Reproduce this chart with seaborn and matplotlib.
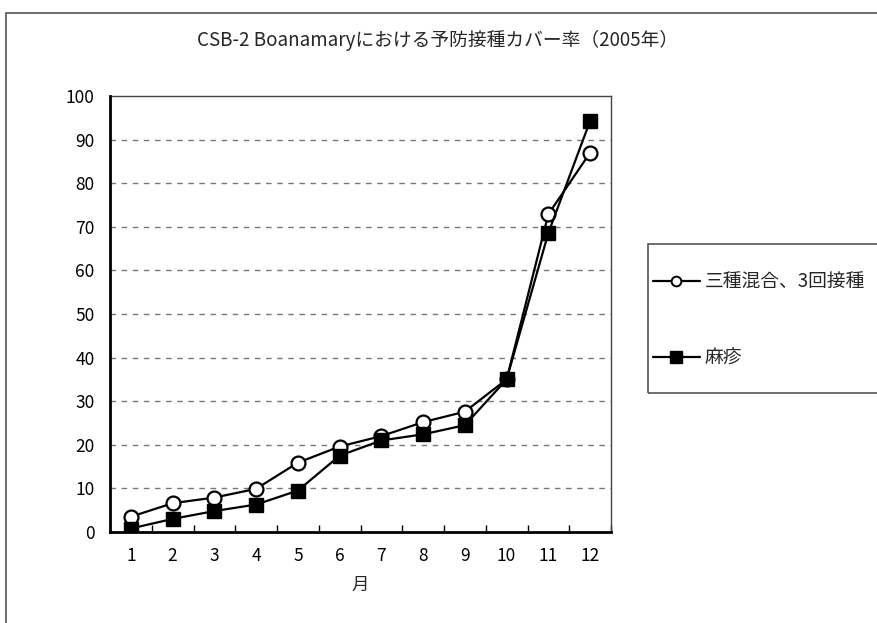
import matplotlib
matplotlib.use("Agg")
import matplotlib.pyplot as plt
import matplotlib.patches as mpatches
from matplotlib.lines import Line2D
import seaborn as sns
import pandas as pd

months = ["1", "2", "3", "4", "5", "6", "7", "8", "9", "10", "11", "12"]
dtp3 = [3.5, 6.6, 7.9, 9.9, 15.9, 19.6, 22.0, 25.2, 27.6, 35.0, 72.9, 87.0]
measles = [0.8, 3.0, 4.8, 6.3, 9.5, 17.5, 21.0, 22.4, 24.5, 35.0, 68.6, 94.3]
series_names = ["三種混合、3回接種", "麻疹"]
title = "CSB-2 Boanamaryにおける予防接種カバー率（2005年）"
xlabel = "月"
yticks = [0, 10, 20, 30, 40, 50, 60, 70, 80, 90, 100]

sns.set_theme(style="white")
plt.rcParams["font.family"] = ["Noto Sans CJK JP", "DejaVu Sans"]

W, H = 877, 623
fig = plt.figure(figsize=(W / 100, H / 100), dpi=100)
fig.patch.set_facecolor("white")

# outer chart-area frame (runs off the right and bottom edges)
fig.patches.append(mpatches.Rectangle((5.5 / W, -0.1), 1.2, 1 - 12.5 / H + 0.1,
                                      transform=fig.transFigure, fill=False,
                                      edgecolor="#555555", linewidth=1.2))
# legend box (also runs off the right edge)
fig.patches.append(mpatches.Rectangle((647.5 / W, 1 - 393 / H), 0.5,
                                      149 / H, transform=fig.transFigure,
                                      fill=False, edgecolor="#555555",
                                      linewidth=1.2))

ax = fig.add_axes([110 / W, 1 - 532 / H, 501 / W, 436 / H])

df = pd.DataFrame({
    "month": months * 2,
    "value": dtp3 + measles,
    "series": [series_names[0]] * 12 + [series_names[1]] * 12,
})

sns.lineplot(data=df[df.series == series_names[0]], x="month", y="value",
             ax=ax, color="black", linewidth=1.6, marker="o", markersize=10,
             markerfacecolor="white", markeredgecolor="black",
             markeredgewidth=1.6, sort=False, legend=False)
sns.lineplot(data=df[df.series == series_names[1]], x="month", y="value",
             ax=ax, color="black", linewidth=1.6, marker="s", markersize=10,
             markerfacecolor="black", markeredgecolor="black",
             markeredgewidth=1.0, sort=False, legend=False)

ax.set_xlim(-0.5, 11.5)
ax.set_ylim(0, 100)
ax.set_yticks(yticks)
ax.set_yticklabels([str(v) for v in yticks], fontsize=12.5)
ax.set_xticks(range(12))
ax.set_xticklabels(months, fontsize=12.5)
ax.set_xticks([i + 0.5 for i in range(-1, 12)], minor=True)
ax.tick_params(axis="x", which="major", length=0, pad=11, colors="black")
ax.tick_params(axis="x", which="minor", direction="in", length=5,
               width=1.0, color="black", bottom=True)
ax.tick_params(axis="y", which="major", length=0, pad=11, colors="black")

for v in yticks[1:-1]:
    ax.axhline(v, color="#777777", linestyle=(0, (4, 4)), linewidth=1.0,
               zorder=0)

ax.set_xlabel(xlabel, fontsize=12.5, labelpad=8)
ax.set_ylabel("")
for side in ["left", "bottom"]:
    ax.spines[side].set_color("black")
    ax.spines[side].set_linewidth(2.0)
for side in ["top", "right"]:
    ax.spines[side].set_color("#444444")
    ax.spines[side].set_linewidth(1.0)
ax.spines["left"].set_zorder(5)
ax.spines["bottom"].set_zorder(5)

fig.text(438 / W, 1 - 40 / H, title, ha="center", va="center", fontsize=13.5)

handles = [
    Line2D([], [], color="black", linewidth=1.6, marker="o", markersize=7,
           markerfacecolor="white", markeredgecolor="black",
           markeredgewidth=1.4),
    Line2D([], [], color="black", linewidth=1.6, marker="s", markersize=8,
           markerfacecolor="black", markeredgecolor="black"),
]
leg = fig.legend(handles, series_names, loc="center left",
                 bbox_to_anchor=(653 / W, 1 - 320 / H), fontsize=13.5,
                 frameon=False, handlelength=2.5, handletextpad=0.25,
                 labelspacing=2.95, borderpad=0, borderaxespad=0)

fig.savefig("out.png", dpi=100, facecolor="white")
